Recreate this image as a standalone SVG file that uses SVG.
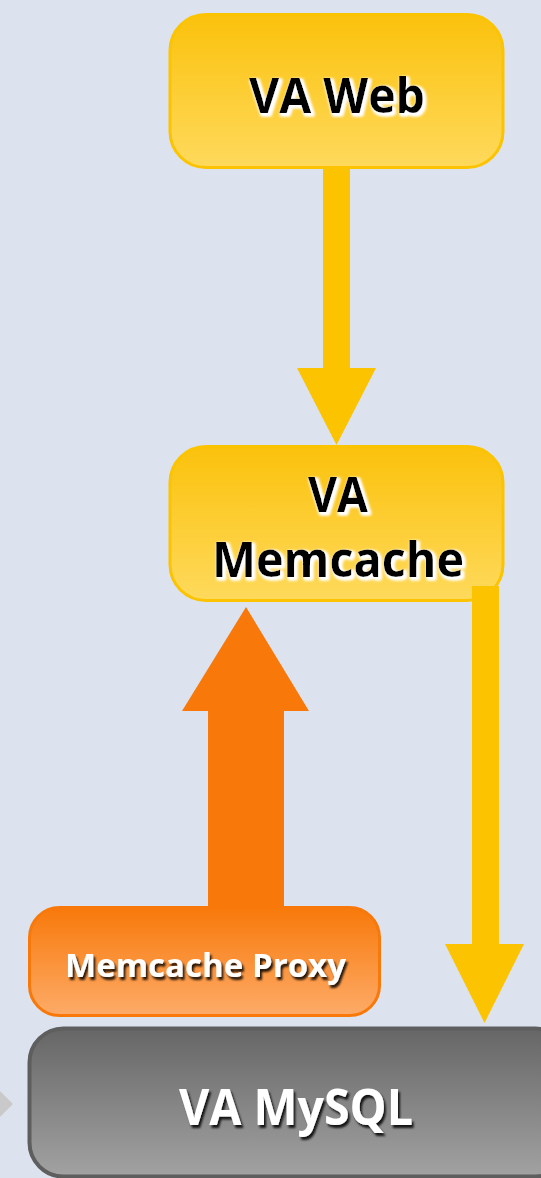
<svg xmlns="http://www.w3.org/2000/svg" width="541" height="1178" viewBox="0 0 541 1178">
<defs>
<linearGradient id="gY" x1="0" y1="0" x2="0" y2="1"><stop offset="0" stop-color="#fbc20c"/><stop offset="1" stop-color="#fed95c"/></linearGradient>
<linearGradient id="gO" x1="0" y1="0" x2="0" y2="1"><stop offset="0" stop-color="#f8790a"/><stop offset="1" stop-color="#fdab68"/></linearGradient>
<linearGradient id="gG" x1="0" y1="0" x2="0" y2="1"><stop offset="0" stop-color="#666666"/><stop offset="1" stop-color="#a2a2a2"/></linearGradient>
<filter id="glow" x="-20%" y="-40%" width="140%" height="180%">
<feMorphology in="SourceAlpha" operator="dilate" radius="1" result="d"/>
<feGaussianBlur in="d" stdDeviation="1.6" result="b"/>
<feOffset in="b" dx="1.5" dy="2" result="o"/>
<feFlood flood-color="#ffffff"/>
<feComposite in2="o" operator="in" result="s"/>
<feMerge><feMergeNode in="s"/><feMergeNode in="s"/><feMergeNode in="SourceGraphic"/></feMerge>
</filter>
<filter id="shadow" x="-20%" y="-40%" width="140%" height="180%">
<feGaussianBlur in="SourceAlpha" stdDeviation="1.3" result="b"/>
<feOffset in="b" dx="2" dy="3" result="o"/>
<feFlood flood-color="#000000" flood-opacity="0.85"/>
<feComposite in2="o" operator="in" result="s"/>
<feMerge><feMergeNode in="s"/><feMergeNode in="SourceGraphic"/></feMerge>
</filter>
</defs>
<style>
.lbl{font-family:"Open Sans","Noto Sans","DejaVu Sans",sans-serif;font-weight:bold;text-anchor:middle}
.dark{fill:#000000;filter:url(#glow)}
.light{fill:#ffffff;filter:url(#shadow)}
.yel{fill:url(#gY);stroke:#fbc300;stroke-width:3}
</style>
<rect width="541" height="1178" fill="#dde3ee"/>
<g id="connectors">
<polygon points="0,1091 13,1104 0,1117" fill="#c9c9c9"/>
<rect x="323" y="165" width="27" height="204" fill="#fbc300"/>
<polygon points="297,368 376,368 336.5,445" fill="#fbc300"/>
<polygon points="208,907 208,711 182,711 246,607 309,711 284,711 284,907" fill="#f8790a"/>
</g>
<g id="va-web">
<rect class="yel" x="170" y="14.5" width="333" height="153" rx="36"/>
<text class="lbl dark" x="337" y="113" font-size="49" textLength="176" lengthAdjust="spacingAndGlyphs">VA Web</text>
</g>
<g id="va-memcache">
<rect class="yel" x="170" y="446.5" width="333" height="154" rx="36"/>
<text class="lbl dark" x="338" y="512" font-size="49" textLength="60" lengthAdjust="spacingAndGlyphs">VA</text>
<text class="lbl dark" x="338" y="577" font-size="49" textLength="252" lengthAdjust="spacingAndGlyphs">Memcache</text>
</g>
<g id="connector-memcache-mysql">
<rect x="472" y="586" width="27" height="360" fill="#fbc300"/>
<polygon points="445,944 524,944 484.5,1023" fill="#fbc300"/>
</g>
<g id="memcache-proxy">
<rect x="29.5" y="907.5" width="350" height="108" rx="30" fill="url(#gO)" stroke="#f8790a" stroke-width="3"/>
<text class="lbl light" x="205.5" y="977" font-size="33" textLength="281" lengthAdjust="spacingAndGlyphs">Memcache Proxy</text>
</g>
<g id="va-mysql">
<rect x="29.5" y="1028.5" width="540" height="148" rx="34" fill="url(#gG)" stroke="#5e5e5e" stroke-width="4"/>
<text class="lbl light" x="296" y="1125" font-size="50" textLength="234" lengthAdjust="spacingAndGlyphs">VA MySQL</text>
</g>
</svg>
